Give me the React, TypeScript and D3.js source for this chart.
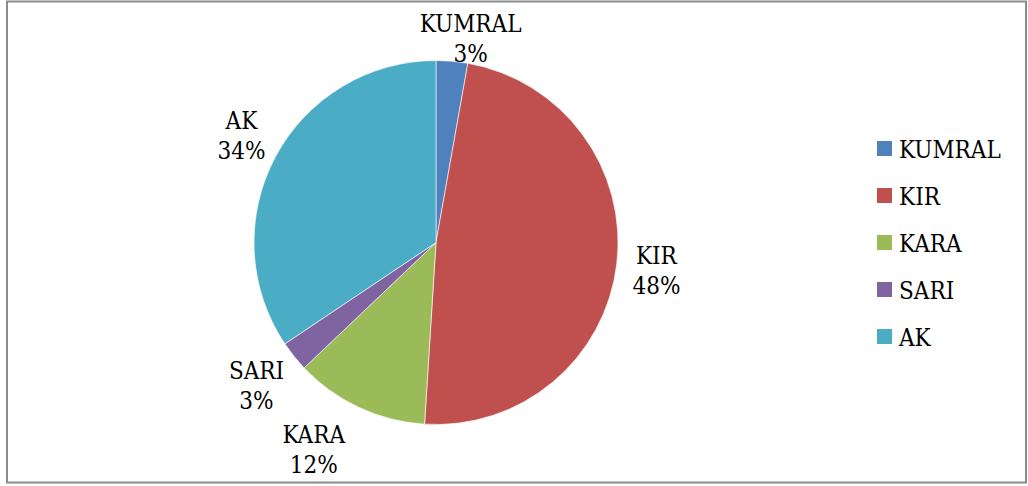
import React, { useEffect, useRef } from "react";
import * as d3 from "d3";

const categories = ["KUMRAL", "KIR", "KARA", "SARI", "AK"];
const shares = [2.8, 48.2, 11.9, 2.7, 34.4];
const colors = ["#4F81BD", "#C0504D", "#9BBB59", "#8064A2", "#4BACC6"];

const W = 1028;
const H = 486;
const FONT = "'DejaVu Serif Condensed', 'DejaVu Serif', serif";

const App: React.FC = () => {
    const svgRef = useRef<SVGSVGElement>(null);

    useEffect(() => {
        document.body.style.margin = "0";
        if (!svgRef.current) return;
        const svg = d3.select(svgRef.current);
        svg.selectAll("*").remove();

        // outer frame
        svg.append("rect")
            .attr("x", 7)
            .attr("y", 1.5)
            .attr("width", 1019)
            .attr("height", 481)
            .attr("fill", "#fff")
            .attr("stroke", "#8c8c8c")
            .attr("stroke-width", 2);

        const cx = 436;
        const cy = 242.5;
        const r = 182;
        const total = d3.sum(shares);

        const data = categories.map((name, i) => ({ name, value: shares[i], color: colors[i] }));
        const pie = d3.pie<typeof data[number]>().sort(null).value((d) => d.value);
        const arcs = pie(data);
        const arc = d3.arc<d3.PieArcDatum<typeof data[number]>>().innerRadius(0).outerRadius(r);

        const g = svg.append("g").attr("transform", `translate(${cx},${cy})`);
        g.selectAll("path")
            .data(arcs)
            .join("path")
            .attr("d", arc)
            .attr("fill", (d) => d.data.color)
            .attr("stroke", "#fff")
            .attr("stroke-width", 0.6);

        // data labels: box placed just outside the arc at mid angle
        const gap = 16;
        const lineH = 30;
        arcs.forEach((a) => {
            const mid = (a.startAngle + a.endAngle) / 2;
            const s = Math.sin(mid);
            const c = Math.cos(mid);
            const pct = d3.format(".0%")(a.data.value / total);
            const w = Math.max(a.data.name.length * 16, pct.length * 15);
            const h = 60;
            let x = cx + s * (r + gap) + (s * w) / 2;
            let y = cy - c * (r + gap) - (c * h) / 2;
            if (y < 8 + h / 2) {
                // keep inside the frame, slide sideways instead
                x += 13;
                y = 8 + h / 2;
            }
            if (c < -0.85) x -= 25;
            const t = svg.append("text")
                .attr("text-anchor", "middle")
                .attr("font-family", FONT)
                .attr("font-size", 24)
                .attr("fill", "#000");
            t.append("tspan").attr("x", x).attr("y", y - 6).text(a.data.name);
            t.append("tspan").attr("x", x).attr("y", y - 6 + lineH).text(pct);
        });

        // legend
        const ly = d3.scalePoint<string>()
            .domain(categories)
            .range([cy - 94, cy + 94]);
        const leg = svg.append("g");
        data.forEach((d) => {
            const yy = ly(d.name) ?? 0;
            leg.append("rect")
                .attr("x", 877)
                .attr("y", yy - 7.5)
                .attr("width", 15)
                .attr("height", 15)
                .attr("fill", d.color);
            leg.append("text")
                .attr("x", 899)
                .attr("y", yy + 9)
                .attr("font-family", FONT)
                .attr("font-size", 24)
                .attr("fill", "#000")
                .text(d.name);
        });
    }, []);

    return <svg ref={svgRef} width={W} height={H} style={{ display: "block" }} />;
};

export default App;
